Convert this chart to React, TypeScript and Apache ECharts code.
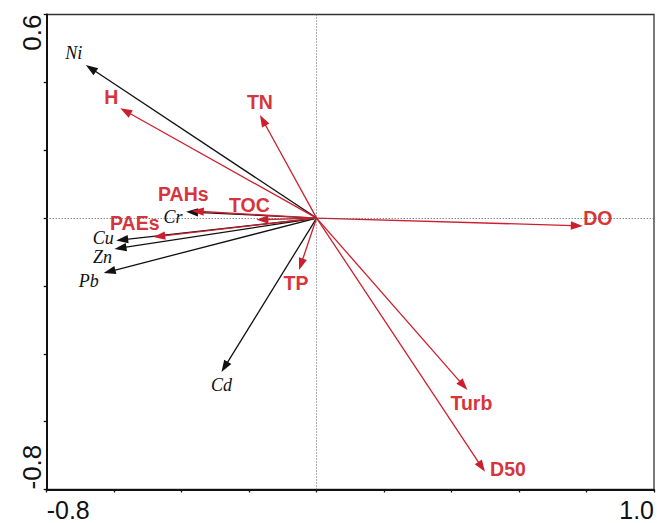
import React, { useEffect, useRef } from 'react';
import * as echarts from 'echarts';

// Response variables (heavy metals) – arrow tips
const speciesNames = ['Ni', 'Cr', 'Cu', 'Zn', 'Pb', 'Cd'];
const speciesX = [-0.684, -0.387, -0.594, -0.599, -0.631, -0.282];
const speciesY = [0.451, 0.0185, -0.066, -0.091, -0.162, -0.454];

// Explanatory (environmental) variables – arrow tips
const envNames = ['H', 'TN', 'PAHs', 'TOC', 'PAEs', 'TP', 'DO', 'Turb', 'D50'];
const envX = [-0.582, -0.168, -0.370, -0.1785, -0.484, -0.052, 0.789, 0.447, 0.499];
const envY = [0.324, 0.304, 0.021, -0.005, -0.056, -0.153, -0.023, -0.507, -0.748];

// Axis ranges and end tick labels
const xRange = [-0.8, 1.0];
const yRange = [-0.8, 0.6];
const tickStep = 0.2;
const xTickLabels = ['-0.8', '1.0'];
const yTickLabels = ['-0.8', '0.6'];

// Label offsets (pixels from arrow tip) – styling, not data
const speciesLabelOffsets = [[-12, -12], [-13, 5], [-13, -2], [-12, 8], [-15, 8], [0, 13]];
const envLabelOffsets = [[-9, -11], [0, -13], [-8.5, -16.5], [-7, -15], [-18.5, -14], [-3, 13.5], [15, -7.5], [4, 13], [23, -3]];

const BLACK = '#111111';
const RED_LINE = '#cc1f2e';
const RED_TEXT = '#d7353c';

function makeRender(names: string[], offsets: number[][], lineColor: string, textStyle: any) {
  return (params: any, api: any) => {
    const i = params.dataIndex;
    const o = api.coord([0, 0]);
    const t = api.coord([api.value(0), api.value(1)]);
    const dx = t[0] - o[0];
    const dy = t[1] - o[1];
    const len = Math.hypot(dx, dy) || 1;
    const ux = dx / len;
    const uy = dy / len;
    const L = 12;
    const W = 4.2;
    const bx = t[0] - ux * L;
    const by = t[1] - uy * L;
    const px = -uy;
    const py = ux;
    return {
      type: 'group',
      children: [
        {
          type: 'line',
          shape: { x1: o[0], y1: o[1], x2: bx + ux * 2, y2: by + uy * 2 },
          style: { stroke: lineColor, lineWidth: 1.3 },
        },
        {
          type: 'polygon',
          shape: { points: [[t[0], t[1]], [bx + px * W, by + py * W], [bx - px * W, by - py * W]] },
          style: { fill: lineColor },
        },
        {
          type: 'text',
          x: t[0] + offsets[i][0],
          y: t[1] + offsets[i][1],
          style: Object.assign({ text: names[i], align: 'center', verticalAlign: 'middle' }, textStyle),
        },
      ],
    };
  };
}

export default function App() {
  const ref = useRef<HTMLDivElement>(null);

  useEffect(() => {
    if (!ref.current) return;
    const chart = echarts.init(ref.current, null, { renderer: 'svg' });

    const endLabel = (labels: string[]) => (v: number) => {
      const s = v.toFixed(1);
      const norm = s === '-0.0' ? '0.0' : s;
      return labels.indexOf(norm) >= 0 ? norm : '';
    };

    const option: any = {
      animation: false,
      backgroundColor: '#ffffff',
      grid: {
        left: 46.7,
        top: 14.5,
        width: 611,
        height: 475,
        show: true,
        borderColor: '#333333',
        borderWidth: 1.3,
        backgroundColor: 'transparent',
      },
      xAxis: {
        type: 'value',
        min: xRange[0],
        max: xRange[1],
        interval: tickStep,
        axisLine: { show: true, onZero: false, lineStyle: { color: BLACK, width: 2 } },
        axisTick: { show: true, length: 3, lineStyle: { color: BLACK, width: 1.3 } },
        splitLine: { show: false },
        axisLabel: {
          show: true,
          formatter: endLabel(xTickLabels),
          showMinLabel: true,
          showMaxLabel: true,
          alignMinLabel: 'left',
          alignMaxLabel: 'right',
          fontFamily: '"Liberation Sans", Arial, sans-serif',
          fontSize: 25,
          color: BLACK,
          margin: 8,
        },
      },
      yAxis: {
        type: 'value',
        min: yRange[0],
        max: yRange[1],
        interval: tickStep,
        axisLine: { show: true, onZero: false, lineStyle: { color: BLACK, width: 2 } },
        axisTick: { show: true, length: 3, lineStyle: { color: BLACK, width: 1.3 } },
        splitLine: { show: false },
        axisLabel: {
          show: true,
          rotate: 90,
          formatter: endLabel(yTickLabels),
          showMinLabel: true,
          showMaxLabel: true,
          alignMinLabel: 'left',
          alignMaxLabel: 'right',
          fontFamily: '"Liberation Sans", Arial, sans-serif',
          fontSize: 26,
          color: BLACK,
          margin: 2,
        },
      },
      series: [
        {
          type: 'custom',
          name: 'metals',
          coordinateSystem: 'cartesian2d',
          clip: false,
          data: speciesNames.map((_, i) => [speciesX[i], speciesY[i]]),
          renderItem: makeRender(speciesNames, speciesLabelOffsets, BLACK, {
            fill: BLACK,
            fontFamily: '"Liberation Serif", "Times New Roman", serif',
            fontStyle: 'italic',
            fontSize: 18,
          }),
          markLine: {
            silent: true,
            symbol: 'none',
            label: { show: false },
            lineStyle: { type: [1, 2], color: '#555555', width: 1 },
            data: [{ xAxis: 0 }, { yAxis: 0 }],
          },
          z: 2,
        },
        {
          type: 'custom',
          name: 'env',
          coordinateSystem: 'cartesian2d',
          clip: false,
          data: envNames.map((_, i) => [envX[i], envY[i]]),
          renderItem: makeRender(envNames, envLabelOffsets, RED_LINE, {
            fill: RED_TEXT,
            fontFamily: '"Liberation Sans", Arial, sans-serif',
            fontWeight: 'bold',
            fontSize: 19.5,
          }),
          z: 3,
        },
      ],
    };

    chart.setOption(option);
    return () => chart.dispose();
  }, []);

  return (
    <div
      ref={ref}
      style={{ position: 'absolute', left: 0, top: 0, width: 657, height: 523, background: '#fff' }}
    />
  );
}
